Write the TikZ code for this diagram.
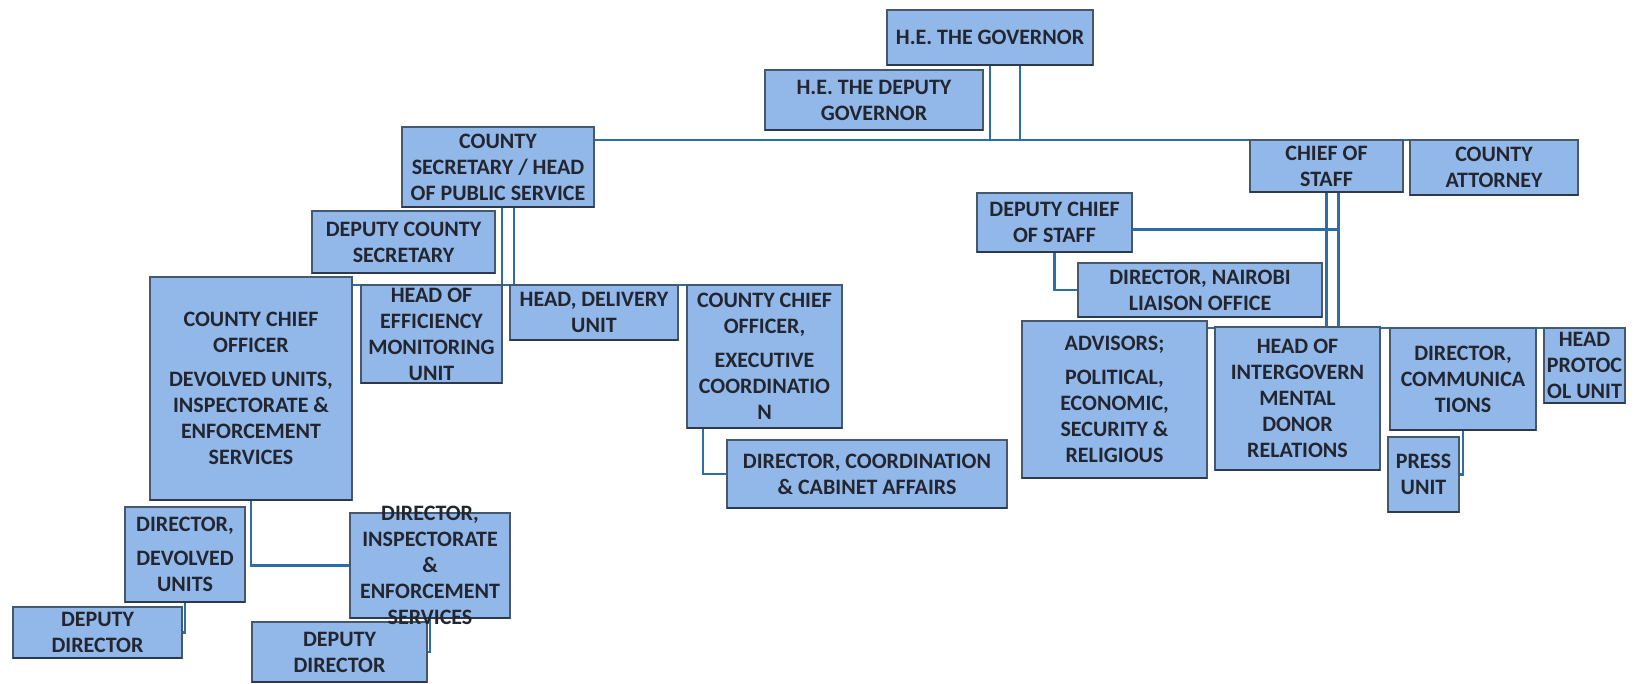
\documentclass[tikz,border=0pt]{standalone}
\usepackage{fontspec}
\setmainfont{Carlito}
\definecolor{boxfill}{RGB}{145,184,232}
\definecolor{boxline}{RGB}{70,88,108}
\definecolor{boxshade}{RGB}{45,58,75}
\definecolor{connc}{RGB}{44,110,165}
\definecolor{txtcol}{RGB}{35,38,48}
\pgfdeclarelayer{bg}
\pgfsetlayers{bg,main}
\newcommand\orgbox[6]{%
  \node[box, minimum width={(#4-#2)*1pt}, minimum height={(#5-#3)*1pt},
        label={[txt,name=#1-t]center:{#6}}] (#1) at ({(#2+#4)/2},{(#3+#5)/2}) {};}
\begin{document}
\begin{tikzpicture}[x=1pt,y=-1pt,
  box/.style={draw=boxline, fill=boxfill, line width=1.3pt, inner sep=0pt, outer sep=0pt,
    append after command={(\tikzlastnode.south west) edge[draw=boxshade, line width=2pt] (\tikzlastnode.south east)}},
  txt/.style={font=\fontsize{22}{26}\selectfont\bfseries, align=center, text=txtcol, inner sep=0pt},
  conn/.style={draw=connc, line width=2.3pt}]
\useasboundingbox (0,0) rectangle (1635,684);

% top
\orgbox{gov}{887}{10}{1093}{65}{H.E. THE GOVERNOR}
\orgbox{dgov}{765}{70}{983}{130}{H.E. THE DEPUTY\\GOVERNOR}
\orgbox{cs}{402}{127}{594}{207}{COUNTY\\SECRETARY / HEAD\\OF PUBLIC SERVICE}
\orgbox{chief}{1250}{140}{1403}{192}{CHIEF OF\\STAFF}
\orgbox{atty}{1410}{140}{1578}{195}{COUNTY\\ATTORNEY}

% right branch
\orgbox{dchief}{977}{193}{1132}{252}{DEPUTY CHIEF\\OF STAFF}
\orgbox{nairobi}{1078}{263}{1322}{317}{DIRECTOR, NAIROBI\\LIAISON OFFICE}
\orgbox{advisors}{1022}{321}{1207}{478}{ADVISORS;\\[8pt]POLITICAL,\\ECONOMIC,\\SECURITY \&\\RELIGIOUS}
\orgbox{intergov}{1215}{327}{1380}{470}{HEAD OF\\INTERGOVERN\\MENTAL\\DONOR\\RELATIONS}
\orgbox{comm}{1390}{328}{1536}{430}{DIRECTOR,\\COMMUNICA\\TIONS}
\orgbox{protoc}{1544}{328}{1625}{403}{HEAD\\PROTOC\\OL UNIT}
\orgbox{press}{1388}{437}{1459}{512}{PRESS\\UNIT}

% left branch
\orgbox{dcs}{312}{211}{495}{273}{DEPUTY COUNTY\\SECRETARY}
\orgbox{cco}{150}{277}{352}{500}{COUNTY CHIEF\\OFFICER\\[8pt]DEVOLVED UNITS,\\INSPECTORATE \&\\ENFORCEMENT\\SERVICES}
\orgbox{eff}{361}{285}{502}{383}{HEAD OF\\EFFICIENCY\\MONITORING\\UNIT}
\orgbox{deliv}{510}{285}{678}{340}{HEAD, DELIVERY\\UNIT}
\orgbox{exec}{687}{285}{842}{428}{COUNTY CHIEF\\OFFICER,\\[8pt]EXECUTIVE\\COORDINATIO\\N}
\orgbox{coord}{727}{440}{1007}{508}{DIRECTOR, COORDINATION\\\& CABINET AFFAIRS}
\orgbox{devolved}{125}{507}{245}{602}{DIRECTOR,\\[8pt]DEVOLVED\\UNITS}
\orgbox{dd2}{252}{622}{427}{682}{DEPUTY\\DIRECTOR}
\orgbox{insp}{350}{513}{510}{618}{DIRECTOR,\\INSPECTORATE\\\&\\ENFORCEMENT\\SERVICES}
\orgbox{dd1}{13}{607}{182}{658}{DEPUTY\\DIRECTOR}

\coordinate (dcj) at ([yshift=-7pt]dchief.east);
\begin{pgfonlayer}{bg}
\fill[white] (0,0) rectangle (1635,684);
% governor to main line
\draw[conn] (gov.south) -- (gov.south |- chief.north);
\draw[conn] ([xshift=30pt]gov.south) -- ([xshift=30pt]gov.south |- chief.north);
\draw[conn] (cs.east |- chief.north) -- (chief.north west);
\draw[conn] (chief.north east) -- (atty.north west);
% county secretary
\draw[conn] ([xshift=4pt]cs.south) -- ([xshift=4pt]cs.south |- eff.north);
\draw[conn] ([xshift=16pt]cs.south) -- ([xshift=16pt]cs.south |- eff.north);
\draw[conn] (cco.east |- eff.north) -- (exec.north east);
\draw[conn] ([xshift=16pt]exec.south west) |- (coord.west);
\draw[conn] (cco.south) |- (insp.west);
\draw[conn] (devolved.south) |- (dd1.east);
\draw[conn] (insp.south) |- (dd2.east);
% chief of staff
\draw[conn] (chief.south) -- (chief.south |- intergov.north);
\draw[conn] ([xshift=12pt]chief.south) -- ([xshift=12pt]chief.south |- intergov.north);
\draw[conn] (dcj) -- ([xshift=12pt]chief.south |- dcj);
\draw[conn] (dchief.south) |- (nairobi.west);
\draw[conn] (advisors.east |- comm.north) -- (protoc.north west);
\draw[conn] (comm.south) |- (press.east);
\end{pgfonlayer}
\end{tikzpicture}
\end{document}
